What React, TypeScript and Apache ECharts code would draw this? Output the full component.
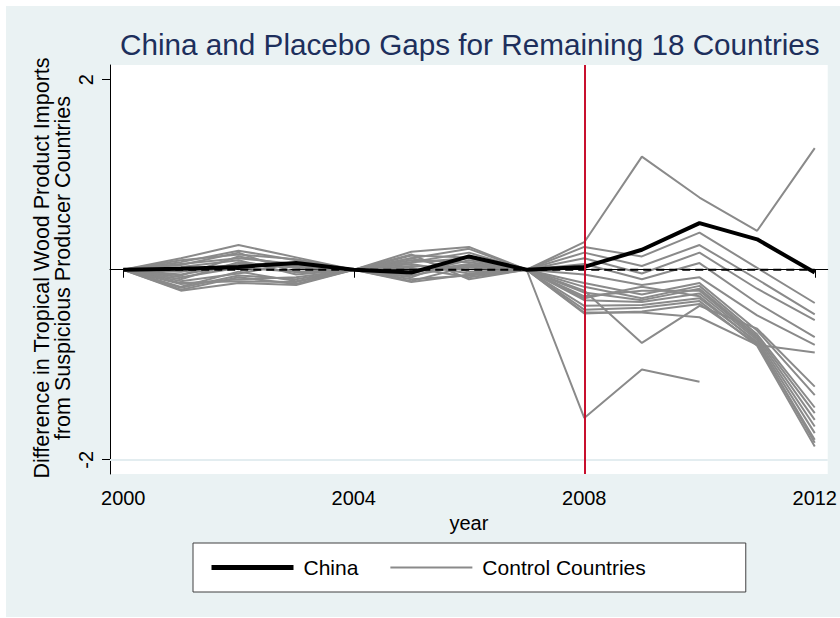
import React, { useEffect, useRef } from "react";
import * as echarts from "echarts";

const years = [2000, 2001, 2002, 2003, 2004, 2005, 2006, 2007, 2008, 2009, 2010, 2011, 2012];
const xTicks = [2000, 2004, 2008, 2012];
const yTicks = [-2, 2];
const treatmentYear = 2008;

const china = [0, 0.01, 0.03, 0.07, 0, -0.03, 0.14, 0, 0.03, 0.21, 0.49, 0.32, -0.03];

const control01 = [0, 0.08, 0.2, 0.1, 0, 0.12, 0.22, 0, 0.29, 1.19, 0.76, 0.41, 1.28];
const control02 = [0, -0.05, 0.05, 0.03, 0, 0.04, 0.02, 0, -1.56, -1.05, -1.18, null, null];
const control03 = [0, -0.21, -0.08, -0.15, 0, -0.1, -0.06, 0, -0.22, -0.77, -0.38, -0.62, -1.23];
const control04 = [0, 0.12, 0.26, 0.13, 0, 0.19, 0.24, 0, 0.24, 0.14, 0.39, 0.02, -0.35];
const control05 = [0, 0.1, 0.16, 0.11, 0, 0.15, 0.13, 0, 0.18, 0.04, 0.26, -0.1, -0.47];
const control06 = [0, 0.06, 0.12, 0.06, 0, 0.08, 0.18, 0, 0.12, -0.04, 0.18, -0.2, -0.53];
const control07 = [0, 0.03, 0.1, -0.05, 0, 0.1, 0.08, 0, 0.06, -0.1, 0.07, -0.35, -0.71];
const control08 = [0, -0.02, 0.06, 0.05, 0, -0.06, 0.05, 0, -0.05, -0.16, -0.08, -0.48, -0.79];
const control09 = [0, -0.08, 0.02, -0.02, 0, 0.06, -0.04, 0, -0.45, -0.45, -0.5, -0.79, -0.87];
const control10 = [0, -0.12, -0.04, 0.07, 0, -0.04, 0.1, 0, -0.14, -0.26, -0.14, -0.64, -1.32];
const control11 = [0, -0.15, -0.1, -0.08, 0, 0.02, -0.08, 0, -0.18, -0.3, -0.17, -0.68, -1.45];
const control12 = [0, -0.18, -0.02, -0.12, 0, -0.12, 0.04, 0, -0.24, -0.32, -0.2, -0.7, -1.51];
const control13 = [0, -0.1, 0.08, 0.02, 0, 0.12, -0.02, 0, -0.28, -0.22, -0.22, -0.72, -1.58];
const control14 = [0, -0.19, -0.06, -0.1, 0, -0.08, 0.14, 0, -0.32, -0.34, -0.25, -0.74, -1.65];
const control15 = [0, 0.05, 0.18, -0.03, 0, 0.16, -0.1, 0, -0.38, -0.37, -0.3, -0.76, -1.72];
const control16 = [0, -0.14, -0.12, -0.13, 0, -0.02, 0.06, 0, -0.42, -0.4, -0.33, -0.8, -1.86];
const control17 = [0, -0.06, 0.14, 0.04, 0, 0.08, 0.12, 0, -0.46, -0.44, -0.36, -0.78, -1.79];
const control18 = [0, -0.22, -0.14, -0.16, 0, -0.13, -0.05, 0, -0.3, -0.18, -0.28, -0.77, -1.82];

const controls = [
  control01, control02, control03, control04, control05, control06,
  control07, control08, control09, control10, control11, control12,
  control13, control14, control15, control16, control17, control18,
];

const FONT = "'Liberation Sans', Arial, sans-serif";

export default function App() {
  const ref = useRef<HTMLDivElement>(null);

  useEffect(() => {
    if (!ref.current) return;
    const chart = echarts.init(ref.current, undefined, { renderer: "svg" });

    const toPairs = (vals: (number | null)[]) =>
      years.map((y, i) => [y, vals[i]]).filter((p) => p[1] !== null);

    const graySeries = controls.map((c) => ({
      name: "Control Countries",
      type: "line",
      data: toPairs(c),
      symbol: "none",
      z: 2,
      lineStyle: { color: "#8a8a8a", width: 2 },
      itemStyle: { color: "#8a8a8a" },
      emphasis: { disabled: true },
    }));

    const option: any = {
      animation: false,
      backgroundColor: "#eaf2f3",
      textStyle: { fontFamily: FONT },
      title: {
        text: "China and Placebo Gaps for Remaining 18 Countries",
        left: 115,
        top: 24,
        textStyle: { fontFamily: FONT, fontSize: 29.7, fontWeight: "normal", color: "#1d2f5c" },
      },
      graphic: [
        { type: "rect", shape: { x: 0, y: 0, width: 840, height: 6 }, style: { fill: "#ffffff" } },
        { type: "rect", shape: { x: 0, y: 0, width: 6, height: 618 }, style: { fill: "#ffffff" } },
        { type: "rect", shape: { x: 0, y: 617, width: 840, height: 1 }, style: { fill: "#ffffff" } },
        {
          type: "text",
          x: 52,
          y: 268,
          rotation: Math.PI / 2,
          style: {
            text: "Difference in Tropical Wood Product Imports\nfrom Suspicious Producer Countries",
            align: "center",
            verticalAlign: "middle",
            font: `21.5px ${FONT}`,
            lineHeight: 21,
            fill: "#000",
          },
        },
      ],
      grid: {
        left: 110,
        top: 65,
        width: 719,
        height: 409,
        show: true,
        backgroundColor: "#ffffff",
        borderWidth: 0,
      },
      legend: {
        left: 193,
        top: 543,
        orient: "horizontal",
        padding: [14, 100, 14, 16],
        itemGap: 31,
        itemWidth: 82,
        itemHeight: 20,
        backgroundColor: "#ffffff",
        borderColor: "#404040",
        borderWidth: 1,
        borderRadius: 0,
        selectedMode: false,
        itemStyle: { opacity: 0 },
        data: [
          { name: "China", lineStyle: { width: 5, color: "#000" } },
          { name: "Control Countries", lineStyle: { width: 2, color: "#8a8a8a" } },
        ],
        textStyle: { fontFamily: FONT, fontSize: 21, color: "#000", padding: [0, 0, 0, 5] },
      },
      xAxis: {
        type: "value",
        min: 1999.77,
        max: 2012.225,
        name: "year",
        nameLocation: "middle",
        nameGap: 36,
        nameTextStyle: { fontFamily: FONT, fontSize: 20, color: "#000" },
        axisLine: { show: true, lineStyle: { color: "#000", width: 1 } },
        axisTick: { show: true, length: 8, customValues: xTicks, lineStyle: { color: "#000" } },
        axisLabel: {
          customValues: xTicks,
          margin: 14,
          fontFamily: FONT,
          fontSize: 20,
          color: "#000",
          formatter: (v: number) => String(v),
        },
        splitLine: { show: false },
      },
      yAxis: {
        type: "value",
        min: -2.15,
        max: 2.155,
        axisLine: { show: true, lineStyle: { color: "#000", width: 1 } },
        axisTick: { show: true, length: 8, customValues: yTicks, lineStyle: { color: "#000" } },
        axisLabel: {
          customValues: yTicks,
          rotate: 90,
          margin: 14,
          fontFamily: FONT,
          fontSize: 20,
          color: "#000",
          formatter: (v: number) => String(v),
        },
        splitLine: { show: false },
      },
      series: [
        {
          name: "grid-2",
          type: "line",
          data: [],
          z: 1,
          markLine: {
            silent: true,
            symbol: "none",
            label: { show: false },
            lineStyle: { color: "#e3edf0", width: 2, type: "solid" },
            data: [{ yAxis: -2 }],
          },
        },
        ...graySeries,
        {
          name: "zero",
          type: "line",
          data: [
            [years[0], 0],
            [years[years.length - 1], 0],
          ],
          symbol: "none",
          z: 3,
          lineStyle: { color: "#000", width: 2, type: [8, 5] },
          emphasis: { disabled: true },
          markLine: {
            silent: true,
            symbol: "none",
            label: { show: false },
            lineStyle: { color: "#c8102e", width: 2, type: "solid" },
            data: [{ xAxis: treatmentYear }],
          },
        },
        {
          name: "China",
          type: "line",
          data: toPairs(china),
          symbol: "none",
          z: 4,
          lineStyle: { color: "#000", width: 4 },
          itemStyle: { color: "#000" },
          emphasis: { disabled: true },
        },
      ],
    };

    chart.setOption(option);
    return () => chart.dispose();
  }, []);

  return (
    <div
      ref={ref}
      style={{ position: "absolute", left: 0, top: 0, width: 840, height: 618 }}
    />
  );
}
